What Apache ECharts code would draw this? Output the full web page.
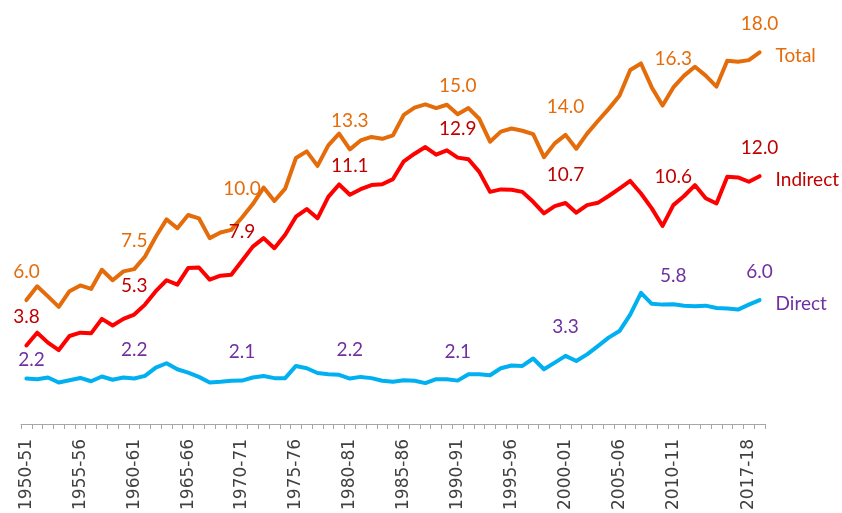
<!DOCTYPE html>
<html>
<head>
<meta charset="utf-8">
<style>
  html, body { margin: 0; padding: 0; background: #ffffff; }
  #chart { width: 842px; height: 513px; }
</style>
<script src="https://cdn.jsdelivr.net/npm/echarts@6/dist/echarts.min.js"></script>
</head>
<body>
<div id="chart"></div>
<script>
// Fiscal years on the category axis
const years = [
  '1950-51','1951-52','1952-53','1953-54','1954-55','1955-56','1956-57','1957-58','1958-59','1959-60',
  '1960-61','1961-62','1962-63','1963-64','1964-65','1965-66','1966-67','1967-68','1968-69','1969-70',
  '1970-71','1971-72','1972-73','1973-74','1974-75','1975-76','1976-77','1977-78','1978-79','1979-80',
  '1980-81','1981-82','1982-83','1983-84','1984-85','1985-86','1986-87','1987-88','1988-89','1989-90',
  '1990-91','1991-92','1992-93','1993-94','1994-95','1995-96','1996-97','1997-98','1998-99','1999-00',
  '2000-01','2001-02','2002-03','2003-04','2004-05','2005-06','2006-07','2007-08','2008-09','2009-10',
  '2010-11','2011-12','2012-13','2013-14','2014-15','2015-16','2016-17','2017-18','2018-19'
];

// Years whose tick label is printed
const shownYears = ['1950-51','1955-56','1960-61','1965-66','1970-71','1975-76','1980-81',
  '1985-86','1990-91','1995-96','2000-01','2005-06','2010-11','2017-18'];

// Years that carry a value label
const labelledYears = ['1950-51','1960-61','1970-71','1980-81','1990-91','2000-01','2010-11','2018-19'];

const total = [
  6.0, 6.67, 6.18, 5.67, 6.43, 6.71, 6.54, 7.47, 6.96, 7.39,
  7.5, 8.11, 9.07, 9.91, 9.48, 10.12, 9.96, 9.0, 9.27, 9.4,
  10.0, 10.65, 11.45, 10.8, 11.4, 12.88, 13.2, 12.5, 13.49, 14.06,
  13.3, 13.73, 13.9, 13.81, 13.98, 14.97, 15.32, 15.48, 15.3, 15.46,
  15.0, 15.3, 14.78, 13.67, 14.16, 14.31, 14.2, 14.04, 12.92, 13.59,
  14.0, 13.33, 14.06, 14.67, 15.26, 15.9, 17.14, 17.46, 16.3, 15.42,
  16.3, 16.87, 17.3, 16.87, 16.34, 17.59, 17.54, 17.62, 18.0
];

const indirect = [
  3.8, 4.42, 3.94, 3.58, 4.26, 4.42, 4.39, 5.09, 4.77, 5.09,
  5.3, 5.78, 6.43, 6.96, 6.75, 7.55, 7.58, 6.99, 7.18, 7.23,
  7.9, 8.59, 9.0, 8.51, 9.16, 10.04, 10.41, 9.96, 11.0, 11.6,
  11.1, 11.37, 11.57, 11.61, 11.86, 12.72, 13.09, 13.41, 13.04, 13.25,
  12.9, 12.82, 12.21, 11.24, 11.36, 11.34, 11.24, 10.76, 10.2, 10.55,
  10.7, 10.23, 10.6, 10.71, 11.04, 11.4, 11.77, 11.16, 10.44, 9.59,
  10.6, 11.04, 11.57, 10.93, 10.68, 11.97, 11.94, 11.73, 12.0
];

const direct = [
  2.2, 2.17, 2.25, 2.01, 2.12, 2.23, 2.07, 2.3, 2.14, 2.25,
  2.2, 2.33, 2.73, 2.94, 2.65, 2.49, 2.28, 2.01, 2.04, 2.09,
  2.1, 2.25, 2.32, 2.22, 2.22, 2.81, 2.7, 2.47, 2.41, 2.38,
  2.2, 2.28, 2.22, 2.09, 2.04, 2.12, 2.09, 1.98, 2.17, 2.17,
  2.1, 2.41, 2.41, 2.36, 2.7, 2.83, 2.81, 3.17, 2.65, 2.97,
  3.3, 3.05, 3.37, 3.77, 4.18, 4.5, 5.3, 6.35, 5.82, 5.78,
  5.8, 5.73, 5.7, 5.73, 5.62, 5.59, 5.54, 5.78, 6.0
];

const LABEL_FONT = 'Lato, "Open Sans", sans-serif';

// Build a line series; value labels only on the labelled years
function makeSeries(name, values, lineColor, labelColor, labelShift) {
  const data = values.map((v, i) => {
    const show = labelledYears.indexOf(years[i]) >= 0;
    const item = { value: v, label: { show: show } };
    if (show && labelShift && labelShift[years[i]]) {
      item.label.offset = labelShift[years[i]];
    }
    return item;
  });
  return {
    name: name,
    type: 'line',
    data: data,
    symbol: 'circle',
    symbolSize: 2,
    showSymbol: true,
    showAllSymbol: true,
    smooth: false,
    lineStyle: { color: lineColor, width: 4, join: 'round', cap: 'round' },
    itemStyle: { color: lineColor },
    label: {
      show: false,
      position: 'top',
      distance: 18,
      color: labelColor,
      fontSize: 19,
      fontFamily: LABEL_FONT,
      formatter: p => p.value.toFixed(1)
    },
    endLabel: {
      show: true,
      formatter: '{a}',
      distance: 16,
      offset: [0, 4],
      color: labelColor,
      fontSize: 19,
      fontFamily: LABEL_FONT
    },
    emphasis: { disabled: true },
    animation: false
  };
}

const chart = echarts.init(document.getElementById('chart'), null, { renderer: 'canvas' });

chart.setOption({
  backgroundColor: '#ffffff',
  animation: false,
  grid: { left: 21, right: 77, top: 11, bottom: 87, containLabel: false },
  xAxis: {
    type: 'category',
    data: years,
    boundaryGap: true,
    axisLine: { show: true, lineStyle: { color: '#a6a6a6', width: 1 } },
    axisTick: { show: true, interval: 0, length: 5, lineStyle: { color: '#a6a6a6' } },
    axisLabel: {
      rotate: 90,
      margin: 15,
      color: '#404040',
      fontSize: 17,
      fontFamily: '"DejaVu Sans", Verdana, sans-serif',
      interval: (idx, val) => shownYears.indexOf(val) >= 0
    },
    splitLine: { show: false }
  },
  yAxis: {
    type: 'value',
    min: 0,
    max: 20,
    show: false,
    splitLine: { show: false }
  },
  series: [
    makeSeries('Total', total, '#E46C0A', '#E46C0A'),
    makeSeries('Indirect', indirect, '#FF0000', '#C00000'),
    makeSeries('Direct', direct, '#00B0F0', '#7030A0', { '1950-51': [5, 10] })
  ]
});
</script>
</body>
</html>
